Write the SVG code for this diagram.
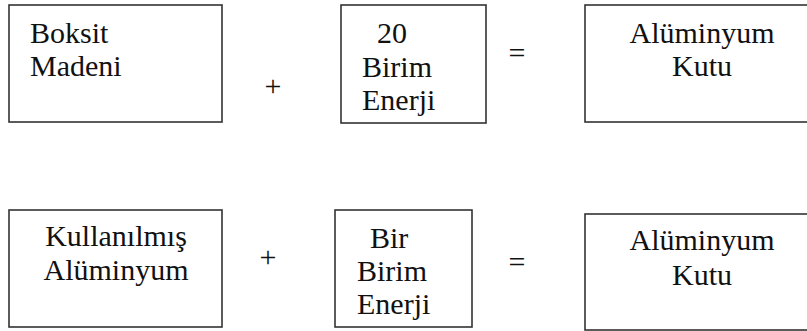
<svg xmlns="http://www.w3.org/2000/svg" width="807" height="331" viewBox="0 0 807 331">
<style>
.box{fill:#fff;stroke:#333;stroke-width:1.6}
.t{font-family:'Liberation Serif','Times New Roman','DejaVu Serif',serif;font-size:30px;fill:#111}
.c{text-anchor:middle}
</style>
<rect width="807" height="331" fill="#fff"/>
<g id="boksit">
<rect class="box" x="9" y="5" width="213" height="117"/>
<text class="t" x="30" y="43">Boksit</text>
<text class="t" x="30" y="76">Madeni</text>
</g>
<g id="enerji20">
<rect class="box" x="341" y="5" width="145" height="118"/>
<text class="t" x="377" y="43">20</text>
<text class="t" x="362" y="77">Birim</text>
<text class="t" x="362" y="110">Enerji</text>
</g>
<g id="kutu1">
<rect class="box" x="585" y="5" width="230" height="117"/>
<text class="t c" x="702" y="43">Alüminyum</text>
<text class="t c" x="702" y="76">Kutu</text>
</g>
<g id="kullanilmis">
<rect class="box" x="9" y="210" width="213" height="117"/>
<text class="t c" x="116" y="246">Kullanılmış</text>
<text class="t c" x="116" y="280">Alüminyum</text>
</g>
<g id="enerjibir">
<rect class="box" x="335" y="210" width="137" height="117"/>
<text class="t" x="370" y="248">Bir</text>
<text class="t" x="357" y="281">Birim</text>
<text class="t" x="357" y="314">Enerji</text>
</g>
<g id="kutu2">
<rect class="box" x="585" y="214" width="230" height="116"/>
<text class="t c" x="702" y="250">Alüminyum</text>
<text class="t c" x="702" y="285">Kutu</text>
</g>
<g id="connectors">
<text class="t c" x="273" y="96">+</text>
<text class="t c" x="517" y="63">=</text>
<text class="t c" x="268" y="267">+</text>
<text class="t c" x="517" y="272">=</text>
</g>
</svg>
